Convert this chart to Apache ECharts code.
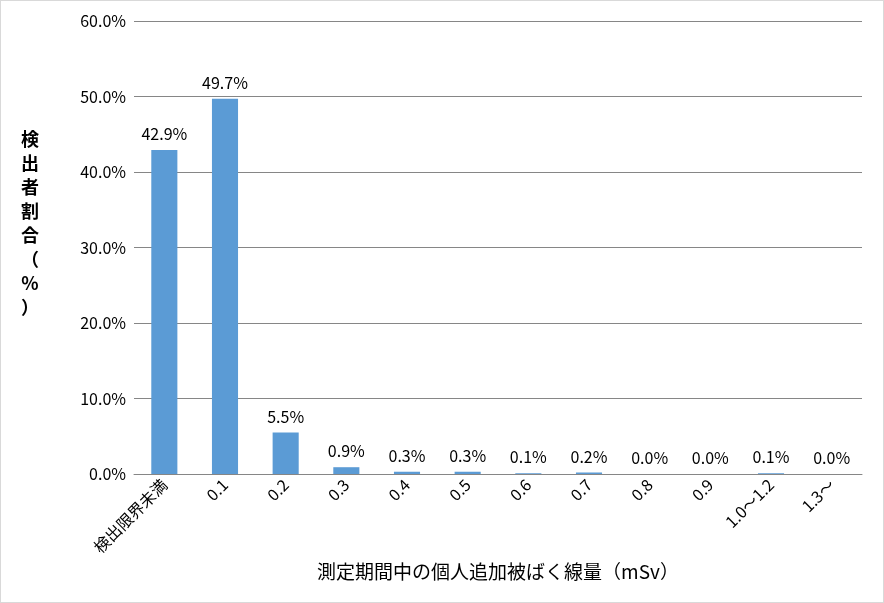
<!DOCTYPE html>
<html><head><meta charset="utf-8">
<script src="https://cdn.jsdelivr.net/npm/echarts@6/dist/echarts.min.js"></script>
<style>html,body{margin:0;padding:0;background:#fff}#c{width:884px;height:603px;box-sizing:border-box;border:1px solid #d9d9d9}</style>
</head><body><div id="c"></div>
<script>
const categories=['検出限界未満','0.1','0.2','0.3','0.4','0.5','0.6','0.7','0.8','0.9','1.0～1.2','1.3～'];
const values=[42.9,49.7,5.5,0.9,0.3,0.3,0.1,0.2,0.0,0.0,0.1,0.0];
const yTitle='検出者割合（%）';
const xTitle='測定期間中の個人追加被ばく線量（mSv）';
const font='"Noto Sans CJK JP","Noto Sans",sans-serif';
const chart=echarts.init(document.getElementById('c'));
chart.setOption({
  animation:false,
  grid:{left:133,right:21,top:20,bottom:128},
  xAxis:{type:'category',data:categories,
    axisLine:{lineStyle:{color:'#868686'}},axisTick:{show:false},
    axisLabel:{rotate:45,color:'#000',fontSize:16,fontFamily:font,interval:0,margin:8},
    name:xTitle,nameLocation:'middle',nameGap:88,nameTextStyle:{color:'#000',fontSize:19,fontFamily:font}},
  yAxis:{type:'value',min:0,max:60,interval:10,
    axisLabel:{formatter:v=>v.toFixed(1)+'%',color:'#000',fontSize:16,fontFamily:font,margin:8},
    axisLine:{show:false},axisTick:{show:false},
    splitLine:{lineStyle:{color:'#868686'}}},
  graphic:[{type:'text',left:20,top:126,style:{text:yTitle.split('').join('\n'),font:'bold 18px '+font,fill:'#000',lineHeight:24,textAlign:'center'}}],
  series:[{type:'bar',data:values,barWidth:'43%',itemStyle:{color:'#5b9bd5'},
    label:{show:true,position:'top',distance:8,formatter:p=>p.value.toFixed(1)+'%',color:'#000',fontSize:16,fontFamily:font}}]
});
</script></body></html>
